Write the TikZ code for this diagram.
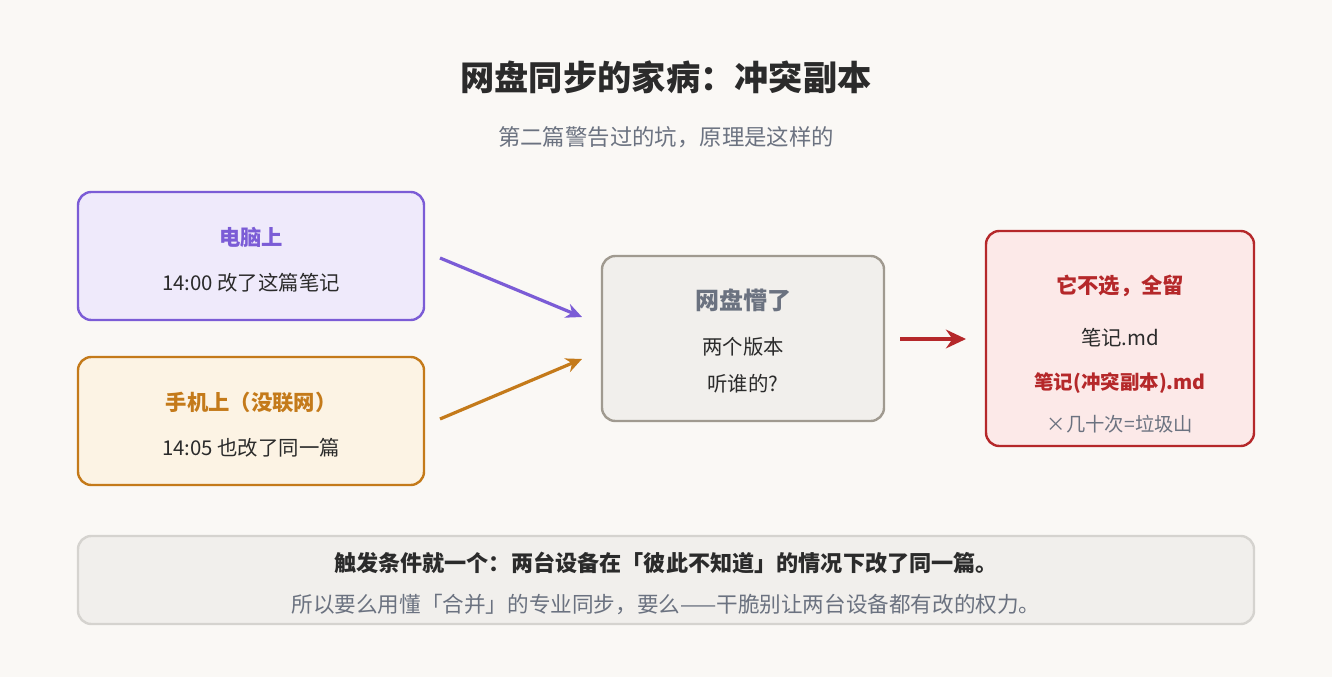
\documentclass[tikz,border=0pt]{standalone}
\usepackage{fontspec}
\setmainfont{Noto Sans CJK SC}
\usetikzlibrary{arrows.meta}
\definecolor{bgc}{HTML}{FAF8F5}
\definecolor{purp}{HTML}{7B5CD6}
\definecolor{purpf}{HTML}{EFEAFB}
\definecolor{oran}{HTML}{C47A1A}
\definecolor{oranf}{HTML}{FCF3E4}
\definecolor{grayb}{HTML}{A09A90}
\definecolor{grayf}{HTML}{F1EFEC}
\definecolor{redc}{HTML}{B5282A}
\definecolor{redf}{HTML}{FCE9E8}
\definecolor{txt}{HTML}{2B2B2B}
\definecolor{mute}{HTML}{6B7280}
\definecolor{lineb}{HTML}{D5D3CF}
\tikzset{
  box/.style={rounded corners=10pt, line width=1.8pt},
  ttl/.style={font=\bfseries\fontsize{16}{18}\selectfont},
  body/.style={text=txt, font=\fontsize{15.3}{18}\selectfont},
  flow/.style={line width=2.4pt, -{Stealth[length=12pt,width=11pt]}}
}
\begin{document}
\begin{tikzpicture}[x=0.75pt, y=-0.75pt]
  % canvas
  \fill[bgc] (0,0) rectangle (1332,677);
  \useasboundingbox (0,0) rectangle (1332,677);

  % heading
  \node[text=txt, font=\bfseries\fontsize{25.7}{30}\selectfont] (title) at (666,77) {网盘同步的家病：冲突副本};
  \node[text=mute, font=\fontsize{16.8}{20}\selectfont] (sub) at (666,137) {第二篇警告过的坑，原理是这样的};

  % two devices
  \draw[box, draw=purp, fill=purpf] (78,192) rectangle (424,320);
  \node[ttl, text=purp] (pcT) at (251,237) {电脑上};
  \node[body] (pcB) at (251,283) {14:00 改了这篇笔记};
  \draw[box, draw=oran, fill=oranf] (78,357) rectangle (424,485);
  \node[ttl, text=oran] (phT) at (251,402) {手机上（没联网）};
  \node[body] (phB) at (251,448) {14:05 也改了同一篇};

  % cloud
  \draw[box, draw=grayb, fill=grayf] (602,256) rectangle (884,421);
  \node[ttl, text=mute, font=\bfseries\fontsize{18}{20}\selectfont] (ndT) at (743,300) {网盘懵了};
  \node[body] (ndA) at (743,347) {两个版本};
  \node[body] (ndB) at (743,384) {听谁的?};

  % result
  \draw[box, draw=redc, fill=redf] (986,231) rectangle (1254,446);
  \node[ttl, text=redc] (rsT) at (1120,286) {它不选，全留};
  \node[body] (rsA) at (1120,338) {笔记.md};
  \node[ttl, text=redc, font=\bfseries\fontsize{14.6}{17}\selectfont] (rsB) at (1120,383) {笔记(冲突副本).md};
  \node[text=mute, font=\fontsize{14.5}{17}\selectfont] (rsC) at (1120,424) {×几十次=垃圾山};

  % arrows
  \coordinate (a1) at (440,258); \coordinate (a2) at (582,317);
  \coordinate (b1) at (440,419); \coordinate (b2) at (582,359);
  \coordinate (c1) at (900,339); \coordinate (c2) at (966,339);
  \draw[flow, purp] (a1) -- (a2);
  \draw[flow, oran] (b1) -- (b2);
  \draw[flow, redc, line width=3.4pt, -{Stealth[length=15pt,width=14pt]}] (c1) -- (c2);

  % footer
  \draw[box, draw=lineb, fill=grayf] (78,536) rectangle (1254,624);
  \node[text=txt, font=\bfseries\fontsize{16.6}{19}\selectfont] (ftA) at (666,563) {触发条件就一个：两台设备在「彼此不知道」的情况下改了同一篇。};
  \node[text=mute, font=\fontsize{16.2}{19}\selectfont] (ftB) at (666,604) {所以要么用懂「合并」的专业同步，要么——干脆别让两台设备都有改的权力。};
\end{tikzpicture}
\end{document}
